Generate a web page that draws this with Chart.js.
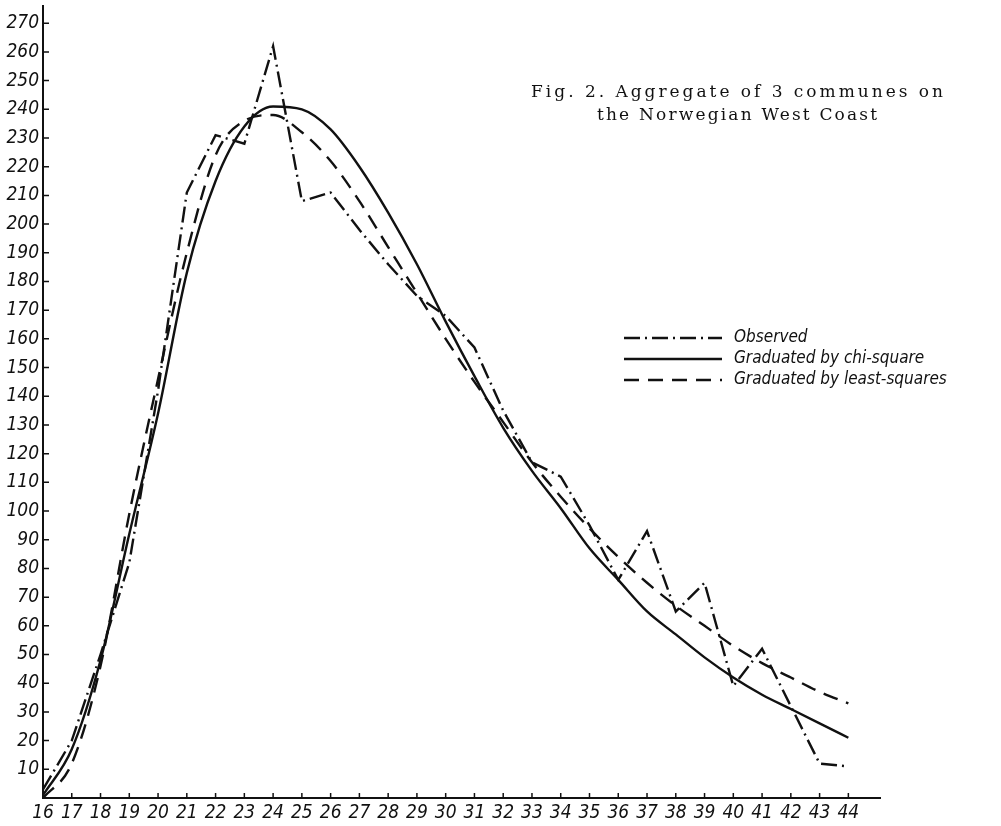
<!DOCTYPE html>
<html>
<head>
<meta charset="utf-8">
<script src="https://cdn.jsdelivr.net/npm/chart.js@4.4.1/dist/chart.umd.min.js"></script>
<style>
  html, body { margin: 0; padding: 0; background: #fff; }
  #wrap { width: 1001px; height: 826px; }
</style>
</head>
<body>
<div id="wrap"><canvas id="fig2" width="1001" height="826"></canvas></div>
<script>
// ages 16..44
var ages = [16, 17, 18, 19, 20, 21, 22, 23, 24, 25, 26, 27, 28, 29, 30,
            31, 32, 33, 34, 35, 36, 37, 38, 39, 40, 41, 42, 43, 44];

var observed = [3, 20, 50, 82, 142, 211, 231, 228, 262, 208, 211, 198, 186, 175, 168,
                157, 135, 117, 112, 95, 76, 93, 65, 75, 39, 52, 32, 12, 11];

var chiSquare = [1, 17, 48, 92, 134, 183, 215, 234, 241, 240, 233, 220, 204, 186, 166,
                 147, 129, 114, 101, 87, 76, 65, 57, 49, 42, 36, 31, 26, 21];

var leastSquares = [0, 12, 46, 99, 146, 190, 224, 236, 238, 232, 222, 208, 192, 176, 160,
                    145, 131, 117, 105, 94, 84, 75, 67, 60, 53, 47, 42, 37, 33];

var seriesNames = ['Observed', 'Graduated by chi-square', 'Graduated by least-squares'];
var titleLines = ['Fig. 2. Aggregate of 3 communes on', 'the Norwegian West Coast'];

function pts(ys) {
    return ages.map(function (a, i) { return { x: a, y: ys[i] }; });
}

var ink = '#111';
var handFamily = '"DejaVu Sans Condensed", "DejaVu Sans", sans-serif';

// small tick marks drawn on the inner side of both axes
var innerTicks = {
    id: 'innerTicks',
    afterDraw: function (chart) {
        var c = chart.ctx, x = chart.scales.x, y = chart.scales.y;
        c.save();
        c.strokeStyle = ink;
        c.lineWidth = 1.5;
        c.beginPath();
        y.ticks.forEach(function (t, i) {
            if (t.value === 0) return;
            var py = y.getPixelForTick(i);
            c.moveTo(x.left, py); c.lineTo(x.left + 6, py);
        });
        x.ticks.forEach(function (t, i) {
            if (t.value === 16) return;
            var px = x.getPixelForTick(i);
            c.moveTo(px, y.bottom); c.lineTo(px, y.bottom - 5);
        });
        c.stroke();
        c.restore();
    }
};

// title and legend placed inside the plot like the printed figure
var figText = {
    id: 'figText',
    afterDraw: function (chart) {
        var c = chart.ctx;
        c.save();
        c.fillStyle = ink;
        c.textBaseline = 'middle';
        c.textAlign = 'center';
        c.font = '17px "DejaVu Serif", "Liberation Serif", serif';
        var widths = [412, 280], ys = [93, 116];
        titleLines.forEach(function (s, i) {
            c.letterSpacing = '0px';
            var w = c.measureText(s).width;
            var sp = Math.max(0, (widths[i] - w) / (s.length - 1));
            c.letterSpacing = sp.toFixed(2) + 'px';
            c.fillText(s, 737 + sp / 2, ys[i]);
        });
        c.letterSpacing = '0px';

        c.textAlign = 'left';
        c.font = 'italic 17px ' + handFamily;
        var rows = [338, 359, 380];
        chart.data.datasets.forEach(function (ds, i) {
            c.strokeStyle = ink;
            c.lineWidth = 2.5;
            c.setLineDash(ds.borderDash || []);
            c.beginPath();
            c.moveTo(624, rows[i]); c.lineTo(722, rows[i]);
            c.stroke();
            c.setLineDash([]);
            c.fillText(ds.label, 734, rows[i]);
        });
        c.restore();
    }
};

window.onload = function () {
    var ctx = document.getElementById('fig2').getContext('2d');

    var chart = new Chart(ctx, {
        type: 'line',
        data: {
            datasets: [{
                label: seriesNames[0],
                data: pts(observed),
                borderColor: ink,
                borderWidth: 2.4,
                borderDash: [16, 5, 2, 5],
                tension: 0,
                pointRadius: 0
            }, {
                label: seriesNames[1],
                data: pts(chiSquare),
                borderColor: ink,
                borderWidth: 2.4,
                cubicInterpolationMode: 'monotone',
                pointRadius: 0
            }, {
                label: seriesNames[2],
                data: pts(leastSquares),
                borderColor: ink,
                borderWidth: 2.4,
                borderDash: [15, 9],
                cubicInterpolationMode: 'monotone',
                pointRadius: 0
            }]
        },
        options: {
            responsive: false,
            animation: false,
            layout: { padding: { left: 0, top: 6, right: 121, bottom: 0 } },
            plugins: {
                legend: { display: false },
                title: { display: false },
                tooltip: { enabled: false }
            },
            scales: {
                x: {
                    type: 'linear',
                    min: 16,
                    max: 45.1,
                    grid: { display: false, drawTicks: false },
                    border: { display: true, color: ink, width: 2 },
                    ticks: {
                        stepSize: 1,
                        includeBounds: false,
                        autoSkip: false,
                        maxRotation: 0,
                        padding: 4,
                        color: ink,
                        font: { family: handFamily, size: 19, style: 'italic' }
                    },
                    afterBuildTicks: function (s) {
                        s.ticks = s.ticks.filter(function (t) { return t.value <= 44; });
                    },
                    afterFit: function (s) { s.height = 28; s.paddingLeft = 0; s.paddingRight = 0; }
                },
                y: {
                    min: 0,
                    max: 276,
                    grid: { display: false, drawTicks: false },
                    border: { display: true, color: ink, width: 2 },
                    ticks: {
                        stepSize: 10,
                        includeBounds: false,
                        autoSkip: false,
                        padding: 4,
                        color: ink,
                        font: { family: handFamily, size: 19, style: 'italic' },
                        callback: function (v) { return v === 0 ? '' : v; }
                    },
                    afterFit: function (s) { s.width = 43; s.paddingTop = 0; s.paddingBottom = 0; }
                }
            }
        },
        plugins: [innerTicks, figText]
    });
};
</script>
</body>
</html>
